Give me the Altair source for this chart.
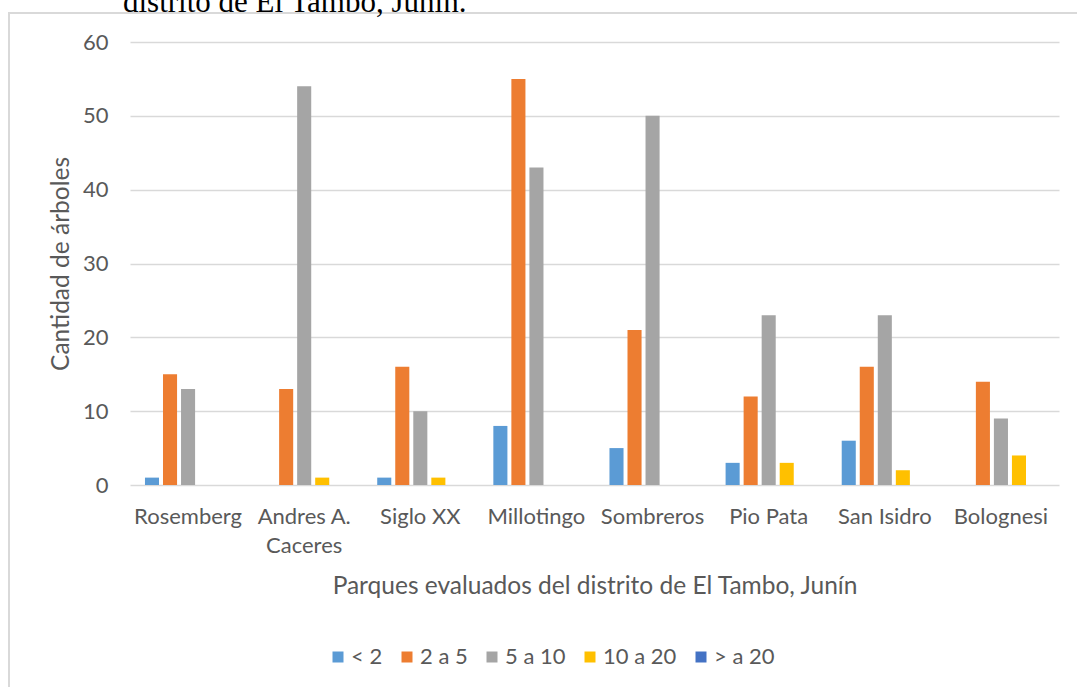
import altair as alt
import pandas as pd

# Parks evaluated and tree counts per diameter class
PARKS = ["Rosemberg", "Andres A. Caceres", "Siglo XX", "Millotingo",
         "Sombreros", "Pio Pata", "San Isidro", "Bolognesi"]
SERIES = ["< 2", "2 a 5", "5 a 10", "10 a 20", "> a 20"]
COLORS = ["#5B9BD5", "#ED7D31", "#A5A5A5", "#FFC000", "#4472C4"]

LT_2 = [1, 0, 1, 8, 5, 3, 6, 0]
FROM_2_TO_5 = [15, 13, 16, 55, 21, 12, 16, 14]
FROM_5_TO_10 = [13, 54, 10, 43, 50, 23, 23, 9]
FROM_10_TO_20 = [0, 1, 1, 0, 0, 3, 2, 4]
GT_20 = [0, 0, 0, 0, 0, 0, 0, 0]

Y_TICKS = [0, 10, 20, 30, 40, 50, 60]

HEADER = "distrito de El Tambo, Junín."
X_TITLE = "Parques evaluados del distrito de El Tambo, Junín"
Y_TITLE = "Cantidad de árboles"

rows = []
for name, values in zip(SERIES, [LT_2, FROM_2_TO_5, FROM_5_TO_10, FROM_10_TO_20, GT_20]):
    for park, v in zip(PARKS, values):
        rows.append({"parque": park, "rango": name, "arboles": v})
df = pd.DataFrame(rows)

W, H = 929, 443
FONT = "Lato"
TEXT = "#595959"
GRID = "#D9D9D9"

bars = alt.Chart(df).mark_bar().encode(
    x=alt.X(
        "parque:N",
        sort=PARKS,
        scale=alt.Scale(paddingInner=0, paddingOuter=0),
        axis=alt.Axis(
            title=X_TITLE,
            labelAngle=0,
            ticks=False,
            tickSize=0,
            domain=False,
            grid=False,
            labelFont=FONT,
            labelFontSize=22,
            labelColor=TEXT,
            labelBaseline="alphabetic",
            labelPadding=38,
            labelLineHeight=29,
            labelExpr="datum.value == 'Andres A. Caceres' ? ['Andres A.', 'Caceres'] : datum.label",
            titleFont=FONT,
            titleFontSize=24.5,
            titleFontWeight="normal",
            titleColor=TEXT,
            titleBaseline="alphabetic",
            titleY=108,
            titleX=W / 2,
        ),
    ),
    xOffset=alt.XOffset(
        "rango:N", sort=SERIES,
        scale=alt.Scale(paddingInner=0.22, paddingOuter=0.83),
    ),
    y=alt.Y(
        "arboles:Q",
        scale=alt.Scale(domain=[0, 60], nice=False),
        axis=alt.Axis(
            title=Y_TITLE,
            values=Y_TICKS,
            ticks=False,
            tickSize=0,
            domain=False,
            grid=True,
            gridColor=GRID,
            gridWidth=1.5,
            labelFont=FONT,
            labelFontSize=22,
            labelColor=TEXT,
            labelPadding=22,
            titleFont=FONT,
            titleFontSize=24.5,
            titleFontWeight="normal",
            titleColor=TEXT,
            titleX=-69,
            titleY=H / 2,
            titleBaseline="middle",
        ),
    ),
    color=alt.Color(
        "rango:N",
        sort=SERIES,
        scale=alt.Scale(domain=SERIES, range=COLORS),
        legend=alt.Legend(
            title=None,
            orient="none",
            legendX=197,
            legendY=604,
            direction="horizontal",
            columns=5,
            symbolType="square",
            symbolSize=121,
            symbolStrokeWidth=0,
            labelFont=FONT,
            labelFontSize=22,
            labelColor=TEXT,
            labelOffset=2,
            columnPadding=13,
        ),
    ),
)

frame = alt.Chart(alt.Data(values=[{}])).mark_rect(
    fillOpacity=0, stroke=GRID, strokeWidth=2
).encode(
    x=alt.value(-121), x2=alt.value(960),
    y=alt.value(-29), y2=alt.value(700),
)

header = alt.Chart(pd.DataFrame({"texto": [HEADER]})).mark_text(
    font="Liberation Serif", fontSize=31, align="left",
    baseline="alphabetic", color="black",
).encode(
    x=alt.value(-7), y=alt.value(-30), text="texto:N",
)

chart = alt.layer(frame, bars, header).properties(
    width=W,
    height=H,
    padding={"left": 130, "top": 42, "right": 18, "bottom": 202},
    autosize=alt.AutoSizeParams(type="none"),
    background="white",
).configure_view(strokeWidth=0)

chart.save("out.html", embed_options={"renderer": "svg", "actions": False})
